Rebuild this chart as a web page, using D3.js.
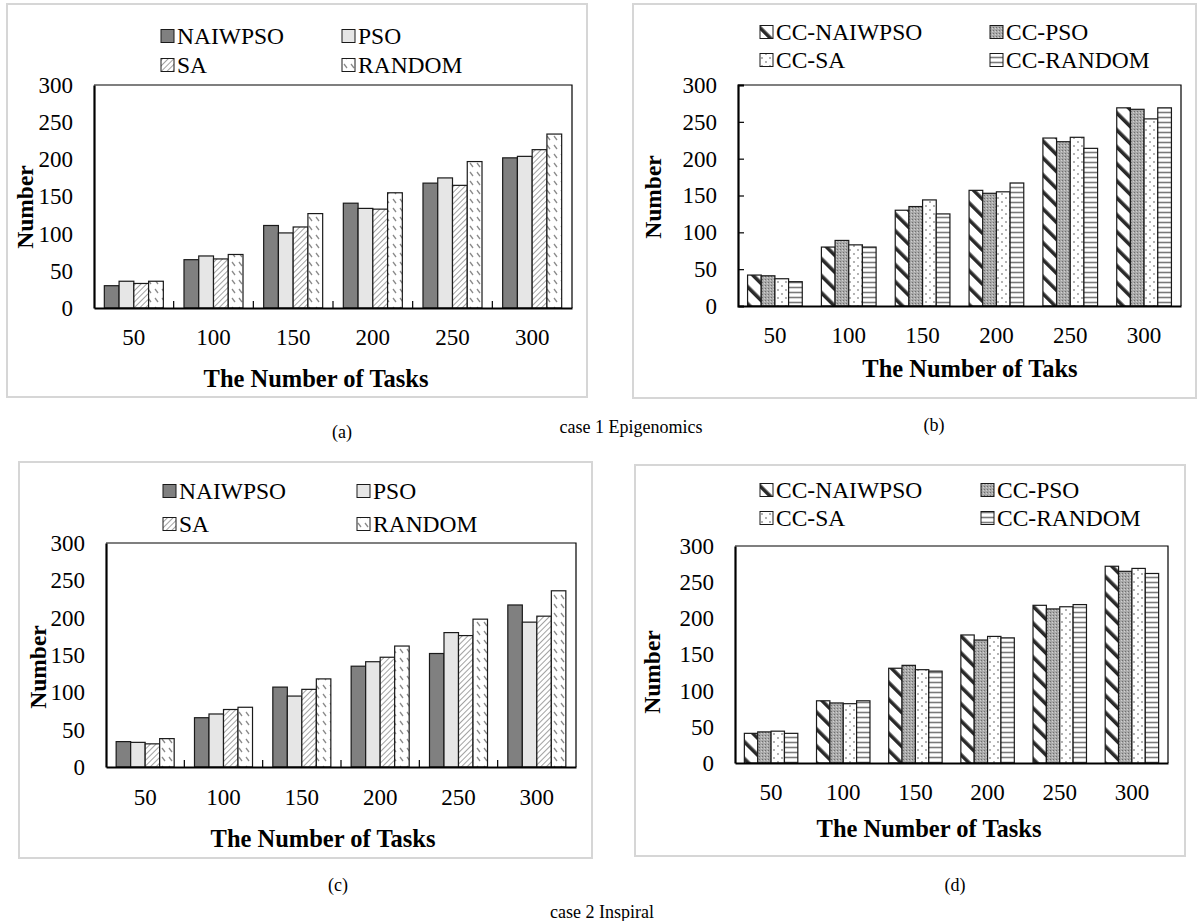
<!DOCTYPE html>
<html>
<head>
<meta charset="utf-8">
<script src="https://cdn.jsdelivr.net/npm/d3@7"></script>
<style>
  body { margin: 0; background: #fff; }
  svg text { font-family: "Liberation Serif", "Times New Roman", serif; fill: #000; }
</style>
</head>
<body>
<svg id="chart" width="1202" height="921"></svg>
<script>
// data
const tasks = ['50', '100', '150', '200', '250', '300'];
const yTicks = [0, 50, 100, 150, 200, 250, 300];

const algoNames = ['NAIWPSO', 'PSO', 'SA', 'RANDOM'];
const ccNames = ['CC-NAIWPSO', 'CC-PSO', 'CC-SA', 'CC-RANDOM'];

// case 1 Epigenomics (a)
const epiNAIWPSO = [30, 65, 111, 141, 168, 202];
const epiPSO = [36, 70, 101, 134, 175, 204];
const epiSA = [33, 66, 109, 133, 165, 213];
const epiRANDOM = [36, 72, 127, 155, 197, 234];

// case 1 Epigenomics (b)
const epiCCNAIWPSO = [42, 80, 130, 157, 228, 269];
const epiCCPSO = [41, 89, 135, 153, 223, 267];
const epiCCSA = [37, 83, 144, 155, 229, 254];
const epiCCRANDOM = [33, 80, 125, 167, 214, 269];

// case 2 Inspiral (c)
const insNAIWPSO = [34, 66, 107, 135, 152, 217];
const insPSO = [33, 71, 95, 141, 180, 194];
const insSA = [31, 77, 104, 147, 176, 202];
const insRANDOM = [38, 80, 118, 162, 198, 236];

// case 2 Inspiral (d)
const insCCNAIWPSO = [41, 86, 131, 177, 218, 272];
const insCCPSO = [43, 83, 135, 170, 213, 265];
const insCCSA = [44, 82, 129, 175, 216, 269];
const insCCRANDOM = [41, 86, 127, 173, 219, 262];

const serif = '"Liberation Serif", "Times New Roman", serif';
const svg = d3.select('#chart');
const defs = svg.append('defs');

// fill patterns for the bars
function pat(id, w, h, draw, tf) {
    const p = defs.append('pattern')
        .attr('id', id)
        .attr('patternUnits', 'userSpaceOnUse')
        .attr('width', w)
        .attr('height', h);
    if (tf) p.attr('patternTransform', tf);
    draw(p);
}
pat('sa', 4, 4, p => {
    p.append('rect').attr('width', 4).attr('height', 4).attr('fill', '#fff');
    p.append('line').attr('x1', 0).attr('y1', 0).attr('x2', 0).attr('y2', 4)
        .attr('stroke', '#8a8a8a').attr('stroke-width', 1.6);
}, 'rotate(45)');
pat('rnd', 7, 9, p => {
    p.append('rect').attr('width', 7).attr('height', 9).attr('fill', '#fff');
    p.append('line').attr('x1', 1).attr('y1', 1).attr('x2', 4).attr('y2', 5)
        .attr('stroke', '#8a8a8a').attr('stroke-width', 1.3);
});
pat('ccn', 12, 12, p => {
    p.append('rect').attr('width', 12).attr('height', 12).attr('fill', '#fff');
    p.append('rect').attr('width', 3.6).attr('height', 12).attr('fill', '#2a2a2a');
}, 'rotate(-45)');
pat('ccp', 3, 3, p => {
    p.append('rect').attr('width', 3).attr('height', 3).attr('fill', '#a9a9a9');
    p.append('rect').attr('width', 1).attr('height', 1).attr('fill', '#6f6f6f');
    p.append('rect').attr('x', 2).attr('y', 1).attr('width', 1).attr('height', 1).attr('fill', '#d0d0d0');
});
pat('ccs', 8, 8, p => {
    p.append('rect').attr('width', 8).attr('height', 8).attr('fill', '#fff');
    p.append('circle').attr('cx', 2).attr('cy', 2).attr('r', 0.9).attr('fill', '#909090');
    p.append('circle').attr('cx', 6).attr('cy', 6).attr('r', 0.9).attr('fill', '#909090');
});
pat('ccr', 5, 5, p => {
    p.append('rect').attr('width', 5).attr('height', 5).attr('fill', '#fff');
    p.append('line').attr('x1', 0).attr('y1', 2.5).attr('x2', 5).attr('y2', 2.5)
        .attr('stroke', '#7a7a7a').attr('stroke-width', 1.6);
});

const algoFills = ['#808080', '#e6e6e6', 'url(#sa)', 'url(#rnd)'];
const ccFills = ['url(#ccn)', 'url(#ccp)', 'url(#ccs)', 'url(#ccr)'];

const panels = [
    {
        series: [epiNAIWPSO, epiPSO, epiSA, epiRANDOM], names: algoNames, fills: algoFills,
        xTitle: 'The Number of Tasks', border: [7, 4, 587, 397],
        l: 94, r: 572, t: 85, b: 308, yLab: [25, 207], xLabY: 337, xTitle_: [316, 378],
        leg: [161, 342], legY: [36, 65], xTicks: true, yTickIn: false
    },
    {
        series: [epiCCNAIWPSO, epiCCPSO, epiCCSA, epiCCRANDOM], names: ccNames, fills: ccFills,
        xTitle: 'The Number of Taks', border: [633, 4, 1196, 398],
        l: 738, r: 1181, t: 85, b: 306, yLab: [653, 197], xLabY: 335, xTitle_: [970, 368],
        leg: [760, 990], legY: [32, 60], xTicks: false, yTickIn: true
    },
    {
        series: [insNAIWPSO, insPSO, insSA, insRANDOM], names: algoNames, fills: algoFills,
        xTitle: 'The Number of Tasks', border: [19, 462, 592, 858],
        l: 106, r: 576, t: 543, b: 767, yLab: [38, 667], xLabY: 797, xTitle_: [323, 838],
        leg: [163, 357], legY: [491, 524], xTicks: true, yTickIn: false
    },
    {
        series: [insCCNAIWPSO, insCCPSO, insCCSA, insCCRANDOM], names: ccNames, fills: ccFills,
        xTitle: 'The Number of Tasks', border: [635, 465, 1185, 856],
        l: 735, r: 1168, t: 546, b: 763, yLab: [652, 672], xLabY: 792, xTitle_: [929, 828],
        leg: [760, 981], legY: [490, 518], xTicks: false, yTickIn: false
    }
];

panels.forEach(function(p) {
    const g = svg.append('g');

    g.append('rect')
        .attr('x', p.border[0]).attr('y', p.border[1])
        .attr('width', p.border[2] - p.border[0]).attr('height', p.border[3] - p.border[1])
        .attr('fill', 'none').attr('stroke', '#d6d6d6').attr('stroke-width', 2);

    const x = d3.scaleBand().domain(tasks).range([p.l, p.r]);
    const xs = d3.scaleBand().domain(d3.range(4))
        .range([0, x.bandwidth()]).paddingOuter(0.7);
    const y = d3.scaleLinear().domain([0, 300]).range([p.b, p.t]);

    // top / right frame
    g.append('path')
        .attr('d', `M${p.l},${p.t}H${p.r}V${p.b}`)
        .attr('fill', 'none').attr('stroke', '#000').attr('stroke-width', 1.2);

    // bars
    p.series.forEach(function(vals, si) {
        g.append('g').selectAll('rect')
            .data(vals)
            .enter().append('rect')
            .attr('x', (d, i) => x(tasks[i]) + xs(si))
            .attr('y', d => y(d))
            .attr('width', xs.bandwidth())
            .attr('height', d => y(0) - y(d))
            .attr('fill', p.fills[si])
            .attr('stroke', '#1a1a1a')
            .attr('stroke-width', 1.2);
    });

    // y axis
    const yAxis = g.append('g')
        .attr('transform', `translate(${p.l},0)`)
        .call(d3.axisLeft(y).tickValues(yTicks)
            .tickSize(p.yTickIn ? -6 : 0).tickPadding(21))
        .attr('font-family', serif).attr('font-size', 23);
    yAxis.select('.domain').attr('stroke', '#000').attr('stroke-width', 2.2);
    yAxis.selectAll('.tick line').attr('stroke', '#000').attr('stroke-width', 1.2);
    yAxis.selectAll('.tick text').attr('fill', '#000');

    // x axis
    const xAxis = g.append('g')
        .attr('transform', `translate(0,${p.b})`)
        .call(d3.axisBottom(x).tickSize(0).tickPadding(0))
        .attr('font-family', serif).attr('font-size', 23);
    xAxis.select('.domain').attr('stroke', '#000').attr('stroke-width', 2.2);
    xAxis.selectAll('.tick text')
        .attr('y', p.xLabY - p.b).attr('dy', '0.35em')
        .attr('fill', '#000');

    if (p.xTicks) {
        g.append('g').selectAll('line')
            .data(tasks.slice(1))
            .enter().append('line')
            .attr('x1', d => x(d)).attr('x2', d => x(d))
            .attr('y1', p.b).attr('y2', p.b - 7)
            .attr('stroke', '#000').attr('stroke-width', 1.2);
    }

    // axis titles
    g.append('text')
        .attr('x', p.xTitle_[0]).attr('y', p.xTitle_[1])
        .attr('text-anchor', 'middle').attr('dominant-baseline', 'central')
        .style('font-size', '24.5px').style('font-weight', 'bold')
        .text(p.xTitle);
    g.append('text')
        .attr('transform', `translate(${p.yLab[0]},${p.yLab[1]}) rotate(-90)`)
        .attr('text-anchor', 'middle').attr('dominant-baseline', 'central')
        .style('font-size', '23.5px').style('font-weight', 'bold')
        .text('Number');

    // legend, two columns by two rows
    p.names.forEach(function(name, i) {
        const lx = p.leg[i % 2];
        const ly = p.legY[Math.floor(i / 2)];
        g.append('rect')
            .attr('x', lx).attr('y', ly - 6.5)
            .attr('width', 13).attr('height', 13)
            .attr('fill', p.fills[i]).attr('stroke', '#1a1a1a').attr('stroke-width', 1);
        g.append('text')
            .attr('x', lx + 16).attr('y', ly)
            .attr('dominant-baseline', 'central')
            .style('font-size', '23.5px')
            .text(name);
    });
});

// captions
const captions = [
    ['(a)', 342, 432], ['case 1 Epigenomics', 631, 427], ['(b)', 934, 425],
    ['(c)', 338, 885], ['(d)', 955, 885], ['case 2 Inspiral', 602, 912]
];
svg.append('g').selectAll('text')
    .data(captions)
    .enter().append('text')
    .attr('x', d => d[1]).attr('y', d => d[2])
    .attr('text-anchor', 'middle').attr('dominant-baseline', 'central')
    .style('font-size', '18px')
    .text(d => d[0]);
</script>
</body>
</html>
